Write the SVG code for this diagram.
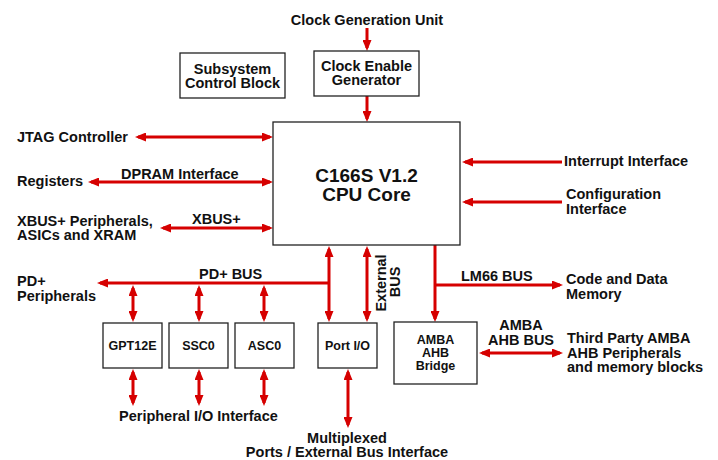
<svg xmlns="http://www.w3.org/2000/svg" width="718" height="460" viewBox="0 0 718 460">
<style>
  text { font-family: "Liberation Sans", Arial, sans-serif; font-weight: bold; fill: #111; font-size: 14.5px; }
  .c { text-anchor: middle; }
  .sm { font-size: 12.5px; }
  .big { font-size: 19px; }
  .box { fill: #fff; stroke: #222; stroke-width: 1.3; }
  .w { stroke: #d60000; stroke-width: 3; fill: none; }
  .a { marker-end: url(#ah); }
  .aa { marker-start: url(#ah); marker-end: url(#ah); }
</style>
<defs>
  <marker id="ah" viewBox="0 0 11 9" markerWidth="11" markerHeight="9" markerUnits="userSpaceOnUse" refX="8" refY="4.5" orient="auto-start-reverse">
    <path d="M0,0 L11,4.5 L0,9 z" fill="#d60000"/>
  </marker>
</defs>
<rect width="718" height="460" fill="#fff"/>

<g id="connectors">
  <line class="w a" x1="367" y1="28" x2="367" y2="48"/>
  <line class="w a" x1="367" y1="96" x2="367" y2="119"/>
  <line class="w aa" x1="138" y1="137" x2="270" y2="137"/>
  <line class="w aa" x1="91" y1="182" x2="270" y2="182"/>
  <line class="w aa" x1="163" y1="228" x2="270" y2="228"/>
  <line class="w a" x1="562" y1="162" x2="465" y2="162"/>
  <line class="w a" x1="562" y1="202" x2="465" y2="202"/>
  <line class="w a" x1="329" y1="283" x2="100" y2="283"/>
  <line class="w aa" x1="329" y1="249" x2="329" y2="319"/>
  <line class="w aa" x1="133" y1="288" x2="133" y2="319"/>
  <line class="w aa" x1="199" y1="288" x2="199" y2="319"/>
  <line class="w aa" x1="264" y1="288" x2="264" y2="319"/>
  <line class="w aa" x1="133" y1="372" x2="133" y2="403"/>
  <line class="w aa" x1="199" y1="372" x2="199" y2="403"/>
  <line class="w aa" x1="264" y1="372" x2="264" y2="403"/>
  <line class="w aa" x1="348" y1="372" x2="348" y2="425"/>
  <line class="w aa" x1="367" y1="249" x2="367" y2="319"/>
  <line class="w a" x1="435" y1="245" x2="435" y2="319"/>
  <line class="w a" x1="435" y1="285" x2="560" y2="285"/>
  <line class="w aa" x1="482" y1="353" x2="560" y2="353"/>
</g>

<g id="clock-generation-unit">
  <text class="c" x="367" y="25">Clock Generation Unit</text>
</g>
<g id="subsystem-control-block">
  <rect class="box" x="180" y="53" width="105" height="45"/>
  <text class="c" x="232.5" y="73.5">Subsystem</text>
  <text class="c" x="232.5" y="87.5">Control Block</text>
</g>
<g id="clock-enable-generator">
  <rect class="box" x="314" y="51" width="105" height="45"/>
  <text class="c" x="366.5" y="71">Clock Enable</text>
  <text class="c" x="366.5" y="85">Generator</text>
</g>
<g id="cpu-core">
  <rect class="box" x="273" y="122" width="187" height="123"/>
  <text class="c big" x="366.5" y="182">C166S V1.2</text>
  <text class="c big" x="366.5" y="200.5">CPU Core</text>
</g>
<g id="jtag">
  <text x="17" y="142">JTAG Controller</text>
</g>
<g id="registers">
  <text x="17" y="185.5">Registers</text>
  <text x="121" y="178.5">DPRAM Interface</text>
</g>
<g id="xbus">
  <text x="17" y="225.5">XBUS+ Peripherals,</text>
  <text x="17" y="239.5">ASICs and XRAM</text>
  <text x="192" y="223.5">XBUS+</text>
</g>
<g id="interrupt">
  <text x="564" y="165.5">Interrupt Interface</text>
</g>
<g id="configuration">
  <text x="566" y="198.5">Configuration</text>
  <text x="566" y="213.5">Interface</text>
</g>
<g id="pd-peripherals">
  <text x="17" y="285.5">PD+</text>
  <text x="17" y="300.5">Peripherals</text>
  <text x="199" y="278.5">PD+ BUS</text>
</g>
<g id="gpt12e">
  <rect class="box" x="103" y="323" width="59" height="45"/>
  <text class="c sm" x="132.5" y="350">GPT12E</text>
</g>
<g id="ssc0">
  <rect class="box" x="169" y="323" width="59" height="45"/>
  <text class="c sm" x="198.5" y="350">SSC0</text>
</g>
<g id="asc0">
  <rect class="box" x="235" y="323" width="59" height="45"/>
  <text class="c sm" x="264.5" y="350">ASC0</text>
</g>
<g id="port-io">
  <rect class="box" x="318" y="323" width="59" height="45"/>
  <text class="c sm" x="347.5" y="349.5">Port I/O</text>
</g>
<g id="peripheral-io">
  <text x="119" y="420.5">Peripheral I/O Interface</text>
</g>
<g id="multiplexed">
  <text class="c" x="347" y="442.5">Multiplexed</text>
  <text class="c" x="347" y="457">Ports / External Bus Interface</text>
</g>
<g id="external-bus">
  <text class="c" transform="translate(385.5,283) rotate(-90)">External</text>
  <text class="c" transform="translate(399.5,282) rotate(-90)">BUS</text>
</g>
<g id="lm66">
  <text x="461" y="280.5">LM66 BUS</text>
</g>
<g id="code-data-memory">
  <text x="566" y="283.5">Code and Data</text>
  <text x="566" y="298.5">Memory</text>
</g>
<g id="amba-bridge">
  <rect class="box" x="394" y="322" width="83" height="62"/>
  <text class="c sm" x="435.5" y="344">AMBA</text>
  <text class="c sm" x="435.5" y="357">AHB</text>
  <text class="c sm" x="435.5" y="370">Bridge</text>
</g>
<g id="amba-bus">
  <text class="c" x="521" y="329.5">AMBA</text>
  <text class="c" x="521" y="344.5">AHB BUS</text>
</g>
<g id="third-party">
  <text x="567" y="342.5">Third Party AMBA</text>
  <text x="567" y="357.5">AHB Peripherals</text>
  <text x="567" y="372">and memory blocks</text>
</g>
</svg>
